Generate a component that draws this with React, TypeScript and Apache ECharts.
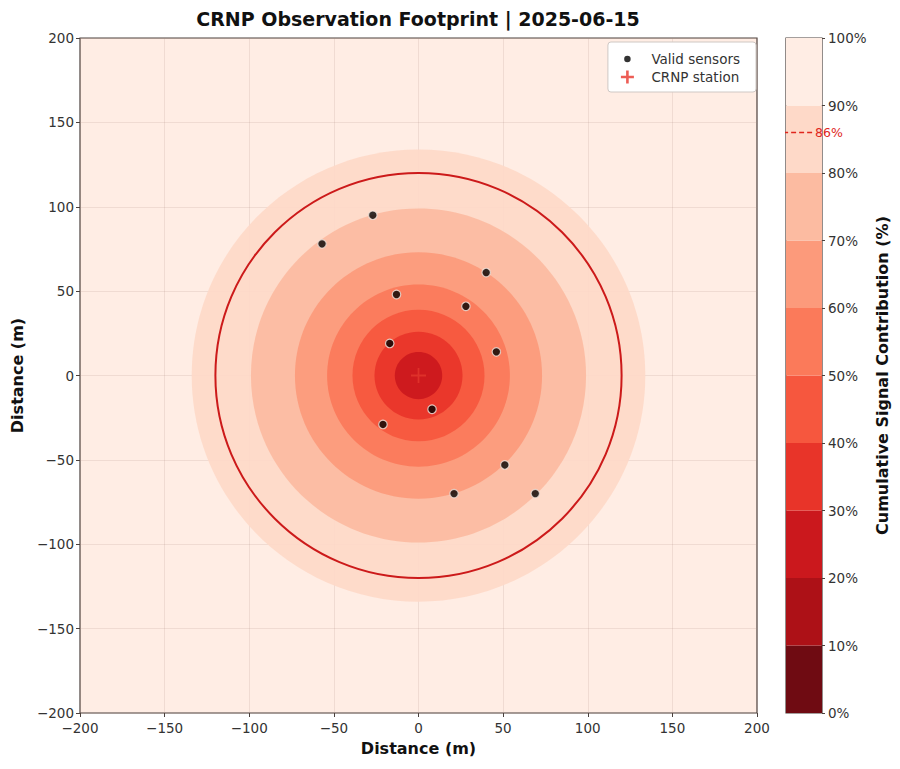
import React, { useEffect, useRef } from "react";
import * as echarts from "echarts";

// Sensor locations relative to the CRNP station (m)
const sensorX = [-27, -57, 40, -13, 28, -17, 46, 8, -21, 51, 21, 69];
const sensorY = [95, 78, 61, 48, 41, 19, 14, -20, -29, -53, -70, -70];

// Footprint contour bands: outer radius (m) and lower bound of the band (%)
const ringRadius = [134, 99, 73, 54, 39, 26, 14];
const ringLevel = [80, 70, 60, 50, 40, 30, 20];
const outerLevel = 90;

// Colour bar bands (lower bound %) and colours (reversed Reds)
const bandLow = [0, 10, 20, 30, 40, 50, 60, 70, 80, 90];
const bandColor = [
  "#6f0b12",
  "#ad1117",
  "#cb181d",
  "#e83429",
  "#f6573e",
  "#fb7a5a",
  "#fc9a7b",
  "#fcbba1",
  "#fed9c8",
  "#ffede4",
];

// Effective footprint contour
const footprintLevel = 86;
const footprintRadius = 120;

const axisTicks = [-200, -150, -100, -50, 0, 50, 100, 150, 200];

const FONT = "DejaVu Sans";
const FRAME = "#4a403c";

function colorFor(level: number): string {
  const i = bandLow.indexOf(level);
  return bandColor[i >= 0 ? i : bandColor.length - 1];
}

function fmtTick(v: number): string {
  return v < 0 ? "\u2212" + Math.abs(v) : String(v);
}

export default function App() {
  const ref = useRef<HTMLDivElement>(null);

  useEffect(() => {
    if (!ref.current) return;
    const chart = echarts.init(ref.current, undefined, { renderer: "svg" });

    const plusThin =
      "path://M4.4,0h1.2v4.4h4.4v1.2h-4.4v4.4h-1.2v-4.4h-4.4v-1.2h4.4z";
    const plusBold = "path://M4,0h2v4h4v2h-4v4h-2v-4h-4v-2h4z";
    // small dot inside a 14x14 box (the two lone moves set the icon's extent)
    const dotIcon =
      "path://M0,0M14,14M10.5,7A3.5,3.5 0 1 1 3.5,7A3.5,3.5 0 1 1 10.5,7Z";

    const tickLabel = { fontFamily: FONT, fontSize: 13.5, color: "#333", margin: 8, formatter: fmtTick };
    const axisName = { fontFamily: FONT, fontWeight: "bold", fontSize: 16, color: "#111" };

    const option: any = {
      animation: false,
      textStyle: { fontFamily: FONT },
      title: {
        text: "CRNP Observation Footprint | 2025-06-15",
        left: 410,
        top: 1,
        padding: 0,
        textAlign: "center",
        textStyle: { fontFamily: FONT, fontWeight: "bold", fontSize: 19, color: "#111" },
      },
      legend: {
        orient: "vertical",
        right: 144,
        top: 34,
        backgroundColor: "#ffffff",
        borderColor: "#cfc8c4",
        borderWidth: 1,
        borderRadius: 3,
        padding: [10, 16, 8, 13],
        itemGap: 4,
        itemWidth: 38,
        itemHeight: 13,
        textStyle: { fontFamily: FONT, fontSize: 13.5, color: "#333" },
        data: [
          { name: "Valid sensors", icon: dotIcon, itemStyle: { color: "#000", borderWidth: 0 } },
          { name: "CRNP station", icon: plusBold, itemStyle: { color: "#e8352a", borderWidth: 0 } },
        ],
      },
      grid: [
        {
          left: 72,
          right: 143,
          top: 30,
          bottom: 56,
          outerBoundsMode: "none",
          containLabel: false,
          show: true,
          backgroundColor: colorFor(outerLevel),
          borderColor: FRAME,
          borderWidth: 1.2,
        },
        {
          left: 778,
          width: 36,
          top: 30,
          bottom: 56,
          outerBoundsMode: "none",
          containLabel: false,
          show: true,
          borderColor: FRAME,
          borderWidth: 1.2,
        },
      ],
      xAxis: [
        {
          gridIndex: 0,
          type: "value",
          min: axisTicks[0],
          max: axisTicks[axisTicks.length - 1],
          interval: 50,
          name: "Distance (m)",
          nameLocation: "middle",
          nameGap: 27,
          nameTextStyle: axisName,
          axisLine: { show: false, onZero: false },
          axisTick: { show: true, length: 4, lineStyle: { color: FRAME } },
          axisLabel: tickLabel,
          splitLine: { show: true, lineStyle: { color: "rgba(170,140,130,0.18)", width: 1 } },
        },
        {
          gridIndex: 1,
          type: "value",
          min: 0,
          max: 1,
          show: false,
        },
      ],
      yAxis: [
        {
          gridIndex: 0,
          type: "value",
          min: axisTicks[0],
          max: axisTicks[axisTicks.length - 1],
          interval: 50,
          name: "Distance (m)",
          nameLocation: "middle",
          nameGap: 55,
          nameRotate: 90,
          nameTextStyle: axisName,
          axisLine: { show: false, onZero: false },
          axisTick: { show: true, length: 4, lineStyle: { color: FRAME } },
          axisLabel: { ...tickLabel, margin: 6 },
          splitLine: { show: true, lineStyle: { color: "rgba(170,140,130,0.18)", width: 1 } },
        },
        {
          gridIndex: 1,
          type: "value",
          position: "right",
          min: 0,
          max: 100,
          interval: 10,
          name: "Cumulative Signal Contribution (%)",
          nameLocation: "middle",
          nameGap: 52,
          nameRotate: 90,
          nameTextStyle: axisName,
          axisLine: { show: false, onZero: false },
          axisTick: { show: true, length: 3, lineStyle: { color: FRAME } },
          axisLabel: { fontFamily: FONT, fontSize: 13.5, color: "#333", margin: 6, formatter: (v: number) => v + "%" },
          splitLine: { show: false },
        },
      ],
      series: [
        {
          name: "footprint",
          type: "custom",
          xAxisIndex: 0,
          yAxisIndex: 0,
          silent: true,
          z: 1,
          data: ringRadius.map((r, i) => [r, ringLevel[i]]),
          renderItem: (params: any, api: any) => {
            const r = api.value(0);
            const c = api.coord([0, 0]);
            const s = api.size([r, r]);
            return {
              type: "ellipse",
              shape: { cx: c[0], cy: c[1], rx: s[0], ry: s[1] },
              style: { fill: colorFor(api.value(1)), opacity: 0.92 },
            };
          },
        },
        {
          name: "86% contour",
          type: "custom",
          xAxisIndex: 0,
          yAxisIndex: 0,
          silent: true,
          z: 2,
          data: [[footprintRadius, footprintLevel]],
          renderItem: (params: any, api: any) => {
            const r = api.value(0);
            const c = api.coord([0, 0]);
            const s = api.size([r, r]);
            return {
              type: "ellipse",
              shape: { cx: c[0], cy: c[1], rx: s[0], ry: s[1] },
              style: { fill: "none", stroke: "#cc1a1a", lineWidth: 2 },
            };
          },
        },
        {
          name: "Valid sensors",
          type: "scatter",
          xAxisIndex: 0,
          yAxisIndex: 0,
          z: 4,
          symbol: "circle",
          symbolSize: 8.5,
          itemStyle: { color: "#000", borderColor: "#f4e6df", borderWidth: 1.2 },
          data: sensorX.map((x, i) => [x, sensorY[i]]),
        },
        {
          name: "CRNP station",
          type: "scatter",
          xAxisIndex: 0,
          yAxisIndex: 0,
          z: 3,
          symbol: plusThin,
          symbolSize: 15,
          itemStyle: { color: "rgba(232,60,48,0.85)" },
          data: [[0, 0]],
        },
        {
          name: "colorbar",
          type: "custom",
          xAxisIndex: 1,
          yAxisIndex: 1,
          silent: true,
          data: bandLow.map((lo) => [lo, lo + 10]),
          renderItem: (params: any, api: any) => {
            const lo = api.value(0);
            const hi = api.value(1);
            const p1 = api.coord([0, hi]);
            const p2 = api.coord([1, lo]);
            return {
              type: "rect",
              shape: { x: p1[0], y: p1[1], width: p2[0] - p1[0], height: p2[1] - p1[1] },
              style: { fill: colorFor(lo) },
            };
          },
        },
        {
          name: "footprint level",
          type: "line",
          xAxisIndex: 1,
          yAxisIndex: 1,
          silent: true,
          symbol: "none",
          z: 5,
          lineStyle: { color: "#e0261c", width: 1.5, type: [5, 3] },
          data: [[-0.08, footprintLevel], [0.75, footprintLevel]],
          endLabel: {
            show: true,
            formatter: footprintLevel + "%",
            color: "#e0261c",
            fontFamily: FONT,
            fontSize: 12.5,
            distance: 2,
          },
        },
      ],
    };

    chart.setOption(option);
    return () => chart.dispose();
  }, []);

  return <div ref={ref} style={{ width: 892, height: 761 }} />;
}
